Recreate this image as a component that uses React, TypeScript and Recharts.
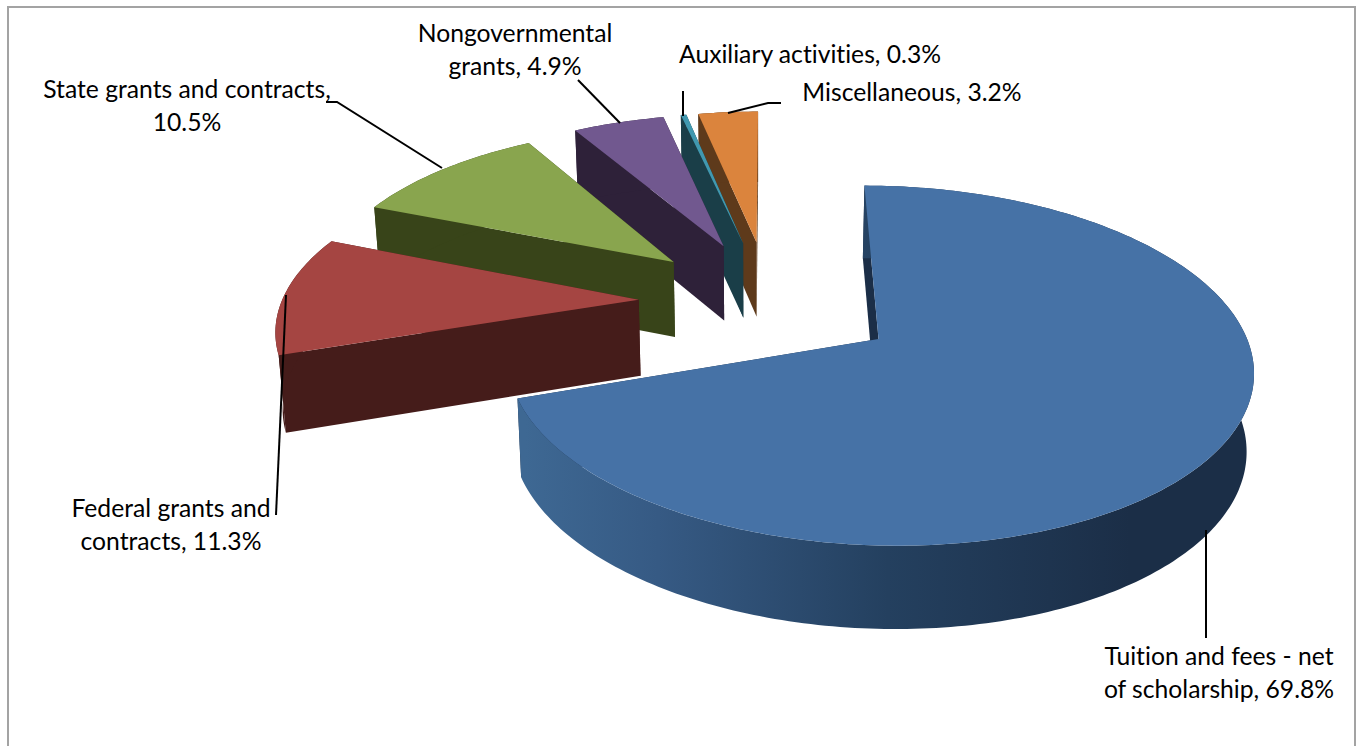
import React from "react";
import { PieChart, Pie } from "recharts";

// Slices in paint order, farthest first, so nearer wedges overlap the ones behind them.
const categories = [
  "Miscellaneous",
  "Auxiliary activities",
  "Nongovernmental grants",
  "State grants and contracts",
  "Federal grants and contracts",
  "Tuition and fees - net of scholarship",
];
const shares = [3.2, 0.3, 4.9, 10.5, 11.3, 69.8];
const topColors = ["#DB843D", "#4198AF", "#71588F", "#89A54E", "#A54542", "#4672A6"];
const sideColors = ["#5E3A1B", "#1A3E48", "#2E2139", "#384419", "#451C1A", "url(#tuitionSide)"];
const wallColors = ["#5E3A1B", "#1A3E48", "#2E2139", "#384419", "#451C1A", "#1B2E47"];
const firstLines = ["", "", "Nongovernmental", "State grants and contracts,", "Federal grants and", "Tuition and fees - net"];

const rows = categories.map((name, i) => ({
  name,
  value: shares[i],
  fill: topColors[i],
  side: sideColors[i],
  wall: wallColors[i],
}));

// Perspective and extrusion of the tilted disc.
const PERSPECTIVE = 0.143;
const TILT = 0.4627;
const EXPLODE_X = 0.3656;
const EXPLODE_Y = 0.378;
const DEPTH_SCALE_X = 0.985;
const DEPTH_ORIGIN_X = 760;
const DEPTH_SCALE_Y = 1.03;
const DEPTH_SHIFT_Y = 67;

const RAD = Math.PI / 180;
type Pt = [number, number];

const toPath = (pts: Pt[]) =>
  pts.map((p, i) => `${i ? "L" : "M"}${p[0].toFixed(2)},${p[1].toFixed(2)}`).join(" ") + " Z";

const lower = ([x, y]: Pt): Pt => [
  DEPTH_ORIGIN_X + DEPTH_SCALE_X * (x - DEPTH_ORIGIN_X),
  DEPTH_SCALE_Y * y + DEPTH_SHIFT_Y,
];

function Wedge3D(props: any) {
  const { cx, cy, outerRadius: R, startAngle, endAngle, fill, payload } = props;
  const project = (X: number, Y: number): Pt => {
    const w = 1 / (1 - PERSPECTIVE * Y);
    return [cx + R * X * w, cy + R * TILT * Y * w];
  };
  const mid = ((startAngle + endAngle) / 2) * RAD;
  const ox = EXPLODE_X * Math.cos(mid);
  const oy = -EXPLODE_Y * Math.sin(mid);
  const apex = project(ox, oy);
  const steps = Math.max(2, Math.ceil(Math.abs(endAngle - startAngle)));
  const arc: Pt[] = [];
  for (let i = 0; i <= steps; i++) {
    const a = (startAngle + ((endAngle - startAngle) * i) / steps) * RAD;
    arc.push(project(ox + Math.cos(a), oy - Math.sin(a)));
  }
  const first = arc[0];
  const last = arc[arc.length - 1];
  const side = [...arc, ...arc.map(lower).reverse()];
  return (
    <g>
      <path d={toPath([apex, first, lower(first), lower(apex)])} fill={payload.wall} />
      <path d={toPath([apex, last, lower(last), lower(apex)])} fill={payload.wall} />
      <path d={toPath(side)} fill={payload.side} />
      <path d={toPath([apex, ...arc])} fill={fill} />
    </g>
  );
}

// Callout placement for each slice: text centre, first baseline, leader polyline.
const callouts = [
  { x: 912, y: 101, leader: "728,113 768,103 781,103" },
  { x: 810, y: 63, leader: "683,91 683,116" },
  { x: 515, y: 42, leader: "578,80 620,123" },
  { x: 187, y: 98, leader: "326,102 337,102 442,168" },
  { x: 171, y: 517, leader: "286,295 276,515" },
  { x: 1219, y: 665, leader: "1206,530 1206,638" },
];
const LINE_HEIGHT = 33;

function Callout(props: any) {
  const { index, name, value } = props;
  const spot = callouts[index];
  const full = `${name}, ${value.toFixed(1)}%`;
  const head = firstLines[index];
  const lines = head ? [head, full.slice(head.length).trim()] : [full];
  return (
    <g>
      <polyline points={spot.leader} fill="none" stroke="#000" strokeWidth={2} />
      <text
        x={spot.x}
        y={spot.y}
        textAnchor="middle"
        fontFamily="Lato"
        fontSize={24.7}
        fill="#000"
        style={{ fontVariantLigatures: "none" }}
      >
        {lines.map((t, i) => (
          <tspan key={i} x={spot.x} y={spot.y + i * LINE_HEIGHT}>
            {t}
          </tspan>
        ))}
      </text>
    </g>
  );
}

export default function App() {
  return (
    <div style={{ position: "absolute", left: 0, top: 0, width: 1356, height: 746, overflow: "hidden", background: "#fff" }}>
      <div
        style={{
          position: "absolute",
          left: 7,
          top: 6,
          width: 1349,
          height: 760,
          boxSizing: "border-box",
          border: "2px solid #a3a3a3",
        }}
      />
      <svg width={0} height={0} style={{ position: "absolute" }}>
        <defs>
          <linearGradient id="tuitionSide" gradientUnits="userSpaceOnUse" x1={525} y1={0} x2={1130} y2={0}>
            <stop offset="0%" stopColor="#3E6893" />
            <stop offset="22%" stopColor="#365A84" />
            <stop offset="60%" stopColor="#24405F" />
            <stop offset="100%" stopColor="#1B2E47" />
          </linearGradient>
        </defs>
      </svg>
      <div style={{ position: "absolute", left: 0, top: 0 }}>
        <PieChart width={1356} height={746} margin={{ top: 0, right: 0, bottom: 0, left: 0 }}>
          <Pie
            data={rows}
            dataKey="value"
            nameKey="name"
            cx={769}
            cy={301.5}
            innerRadius={0}
            outerRadius={357}
            startAngle={90}
            endAngle={450}
            paddingAngle={0}
            stroke="none"
            isAnimationActive={false}
            shape={Wedge3D}
            activeShape={Wedge3D}
            inactiveShape={Wedge3D}
            label={Callout}
            labelLine={false}
          />
        </PieChart>
      </div>
    </div>
  );
}
